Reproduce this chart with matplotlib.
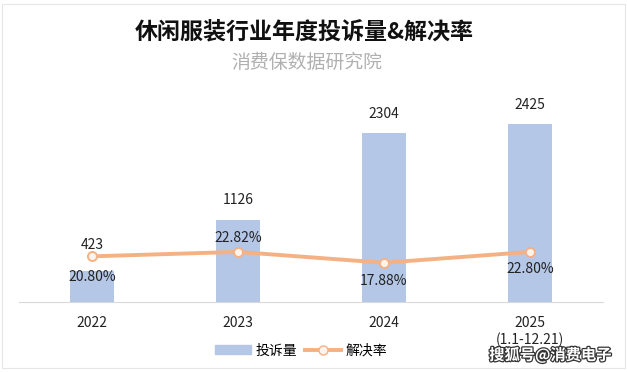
import matplotlib.pyplot as plt
import matplotlib.patheffects as pe
from matplotlib.patches import Rectangle
from matplotlib.lines import Line2D

plt.rcParams['font.family'] = ['Noto Sans CJK SC', 'DejaVu Sans']

# -------------------------------
# Data
# -------------------------------
years = ["2022", "2023", "2024", "2025"]
complaints = [423, 1126, 2304, 2425]
resolve_rate = [20.80, 22.82, 17.88, 22.80]
count_offsets = [14, 9, 9, 9]      # label gap above bars
rate_offsets = [-15, 10, -13, -12]  # label above/below points

bar_color = "#B4C7E7"
line_color = "#F4B183"

fig = plt.figure(figsize=(6.27, 3.72), dpi=100)
ax = fig.add_axes([0.0303, 0.188, 0.931, 0.591])
ax2 = ax.twinx()

x = list(range(len(years)))
ax.bar(x, complaints, width=0.30, color=bar_color, zorder=1)
ax.set_xlim(-0.5, 3.5)
ax.set_ylim(0, 3000)
for xi, v, off in zip(x, complaints, count_offsets):
    ax.annotate(str(v), (xi, v), xytext=(0, off), textcoords="offset points",
                ha="center", va="bottom", fontsize=10, color="#222222")

ax2.plot(x, [r / 100 for r in resolve_rate], color=line_color, lw=2.8,
         marker="o", markersize=6.5, markerfacecolor="#FFF4EC",
         markeredgecolor=line_color, markeredgewidth=1.4, zorder=3)
ax2.set_ylim(0, 1)
for xi, r, off in zip(x, resolve_rate, rate_offsets):
    ax2.annotate(f"{r:.2f}%", (xi, r / 100), xytext=(0, off), textcoords="offset points",
                 ha="center", va="center", fontsize=10, color="#222222")

for a in (ax, ax2):
    for s in a.spines.values():
        s.set_visible(False)
    a.set_yticks([])
ax.spines["bottom"].set_visible(True)
ax.spines["bottom"].set_color("#D9D9D9")
ax.set_xticks(x)
ax.set_xticklabels(years, fontsize=10, color="#222222")
ax.tick_params(axis="x", length=0, pad=10)
ax2.set_zorder(ax.get_zorder() + 1)
ax2.patch.set_visible(False)

# Titles
fig.text(0.485, 0.915, "休闲服装行业年度投诉量&解决率", ha="center", va="center",
         fontsize=16.6, fontweight="bold", color="#111111")
fig.text(0.49, 0.832, "消费保数据研究院", ha="center", va="center",
         fontsize=13.6, color="#B0B0B0")

fig.text(530 / 627, 1 - 340 / 372, "(1.1-12.21)", ha="center", va="center",
         fontsize=10, color="#222222")

# Legend
handles = [Rectangle((0, 0), 1, 1, color=bar_color),
           Line2D([0], [0], color=line_color, lw=2.8, marker="o", markersize=6.5,
                  markerfacecolor="#FFF4EC", markeredgecolor=line_color)]
fig.legend(handles, ["投诉量", "解决率"], loc="center", bbox_to_anchor=(0.48, 0.058),
           ncol=2, frameon=False, fontsize=10, handlelength=2.6, columnspacing=0.6,
           handletextpad=0.3)

# Watermark
fig.text(0.975, 0.045, "搜狐号@消费电子", ha="right", va="center", fontsize=11,
         color="white", fontweight="bold",
         path_effects=[pe.withStroke(linewidth=1.8, foreground="#333333")])

# Frame
fig.patches.append(Rectangle((0.003, 0.01), 0.994, 0.98, transform=fig.transFigure,
                             fill=False, edgecolor="#E6E6E6", lw=0.8))

plt.savefig("out.png", dpi=100)
plt.close()
